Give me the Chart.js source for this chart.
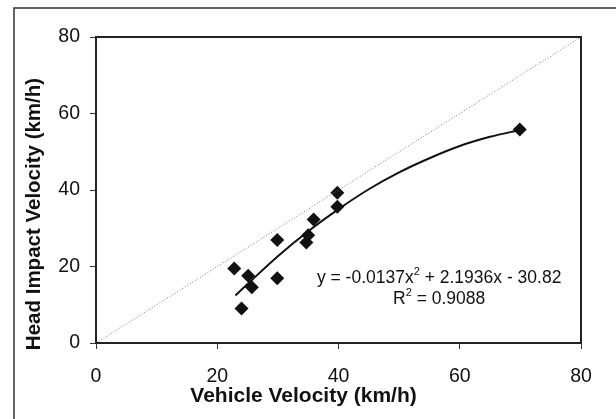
<!DOCTYPE html>
<html>
<head>
<meta charset="utf-8">
<script src="https://cdn.jsdelivr.net/npm/chart.js@4"></script>
<style>
  html, body { margin: 0; padding: 0; background: #fff; }
  #wrap { width: 616px; height: 419px; }
</style>
</head>
<body>
<div id="wrap"><canvas id="headChart" width="616" height="419"></canvas></div>
<script>
// measured points (vehicle velocity vs head impact velocity, km/h)
const vehicleSpeed = [22.8, 24, 25.1, 25.7, 29.9, 29.9, 34.7, 35, 35.9, 39.8, 39.8, 69.9];
const headSpeed = [19.5, 9, 17.6, 14.6, 26.9, 16.9, 26.3, 28.2, 32.3, 39.3, 35.6, 55.8];

// trendline
const trendX = [23, 25, 30, 35, 40, 45, 50, 55, 60, 65, 70];
const trendY = [12.4, 15.4, 22.7, 29.2, 35.0, 40.2, 44.6, 48.3, 51.5, 53.9, 55.7];

// y = x reference line
const refX = [0, 80];
const refY = [0, 80];

const eqLine1 = ['y = -0.0137x', '2', ' + 2.1936x - 30.82'];
const eqLine2 = ['R', '2', ' = 0.9088'];
const xTitle = 'Vehicle Velocity (km/h)';
const yTitle = 'Head Impact Velocity (km/h)';

const FONT = '"Liberation Sans", Arial, sans-serif';

const framePlugin = {
  id: 'frame',
  beforeDraw(chart) {
    const c = chart.ctx;
    c.save();
    c.strokeStyle = '#333';
    c.lineWidth = 1.5;
    c.beginPath();
    c.moveTo(14, 419);
    c.lineTo(14, 8);
    c.lineTo(616, 8);
    c.stroke();
    c.restore();
  },
  afterDraw(chart) {
    const c = chart.ctx;
    const a = chart.chartArea;
    c.save();
    c.strokeStyle = '#222';
    c.lineWidth = 2;
    c.strokeRect(a.left, a.top, a.right - a.left, a.bottom - a.top);

    // axis titles (Excel-style, centred on the figure rather than the plot)
    c.fillStyle = '#111';
    c.textAlign = 'center';
    c.textBaseline = 'middle';
    c.font = 'bold 21px ' + FONT;
    c.fillText(xTitle, 303.5, 396);
    c.save();
    c.translate(34, 214);
    c.rotate(-Math.PI / 2);
    c.font = 'bold 20.5px ' + FONT;
    c.fillText(yTitle, 0, 0);
    c.restore();

    // equation text
    const xs = chart.scales.x, ys = chart.scales.y;
    const drawEq = (parts, xv, yv) => {
      c.font = '17.5px ' + FONT;
      const w0 = c.measureText(parts[0]).width;
      const w2 = c.measureText(parts[2]).width;
      c.font = '11px ' + FONT;
      const w1 = c.measureText(parts[1]).width;
      const total = w0 + w1 + w2;
      let x = xs.getPixelForValue(xv) - total / 2;
      const y = ys.getPixelForValue(yv);
      c.textAlign = 'left';
      c.font = '17.5px ' + FONT;
      c.fillText(parts[0], x, y);
      x += w0;
      c.font = '11px ' + FONT;
      c.fillText(parts[1], x, y - 6);
      x += w1;
      c.font = '17.5px ' + FONT;
      c.fillText(parts[2], x, y);
    };
    drawEq(eqLine1, 56.6, 17);
    drawEq(eqLine2, 56.6, 11.5);
    c.restore();
  }
};

new Chart(document.getElementById('headChart').getContext('2d'), {
  type: 'scatter',
  data: {
    datasets: [
      {
        label: 'y = x',
        type: 'line',
        data: refX.map((x, i) => ({ x: x, y: refY[i] })),
        borderColor: '#777',
        borderWidth: 1,
        borderDash: [1, 2],
        pointRadius: 0,
        fill: false
      },
      {
        label: 'Trend',
        type: 'line',
        data: trendX.map((x, i) => ({ x: x, y: trendY[i] })),
        borderColor: '#111',
        borderWidth: 2,
        tension: 0.4,
        pointRadius: 0,
        fill: false
      },
      {
        label: 'Data',
        data: vehicleSpeed.map((x, i) => ({ x: x, y: headSpeed[i] })),
        pointStyle: 'rectRot',
        pointRadius: 7,
        backgroundColor: '#111',
        borderColor: '#111',
        borderWidth: 0
      }
    ]
  },
  options: {
    responsive: false,
    animation: false,
    layout: { padding: { top: 37, right: 35, left: 0, bottom: 0 } },
    plugins: {
      legend: { display: false },
      tooltip: { enabled: false }
    },
    scales: {
      x: {
        type: 'linear',
        min: 0, max: 80,
        ticks: { stepSize: 20, color: '#111', font: { family: FONT, size: 19.5 }, padding: 16 },
        grid: { drawOnChartArea: false, drawTicks: true, tickLength: 6, color: '#333' },
        border: { display: true, color: '#222', width: 2 },
        afterFit(scale) { scale.height = 76; }
      },
      y: {
        type: 'linear',
        min: 0, max: 80,
        ticks: { stepSize: 20, color: '#111', font: { family: FONT, size: 19.5 }, padding: 10 },
        grid: { drawOnChartArea: false, drawTicks: true, tickLength: 6, color: '#333' },
        border: { display: true, color: '#222', width: 2 },
        afterFit(scale) { scale.width = 96; }
      }
    }
  },
  plugins: [framePlugin]
});
</script>
</body>
</html>
